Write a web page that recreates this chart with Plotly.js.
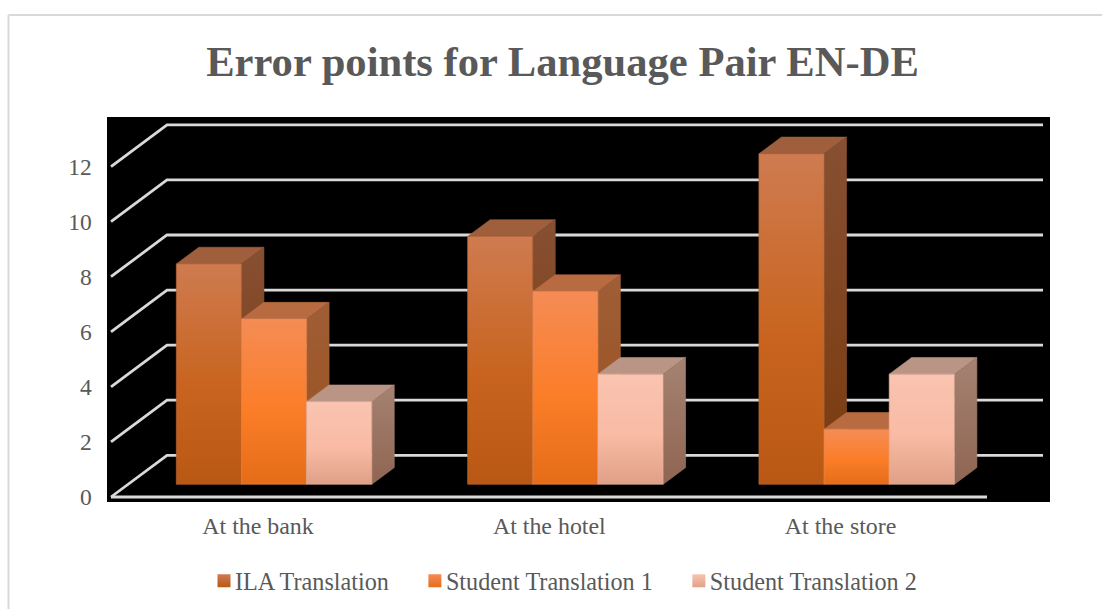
<!DOCTYPE html>
<html><head><meta charset="utf-8">
<script src="https://cdn.plot.ly/plotly-3.0.1.min.js"></script>
<style>html,body{margin:0;padding:0;background:#fff}</style></head>
<body><div id="chart" style="width:1102px;height:609px"></div>
<script>
const categories = ["At the bank", "At the hotel", "At the store"];
const ilaTranslation = [8, 9, 12];
const studentTranslation1 = [6, 7, 2];
const studentTranslation2 = [3, 4, 4];
const tickValues = [0, 2, 4, 6, 8, 10, 12];
const seriesNames = ["ILA Translation", "Student Translation 1", "Student Translation 2"];

const W = 1102, H = 609, L = 107, R = 1050, T = 117, B = 502;
const zeroPx = 497, unitPx = 27.54, catPx = 291.3, cat0Px = 258;
const dx = p => p / catPx, dy = p => p / unitPx;
const sx = [
  {front:[[0,'#CF7B50'],[0.55,'#C8641F'],[1,'#B95814']], top:'#A05F3C', side:[[0,'#875033'],[1,'#7A3A0C']], edge:'#B8663A'},
  {front:[[0,'#F58C55'],[0.55,'#FB7D28'],[1,'#E56D18']], top:'#B86B40', side:[[0,'#A05E37'],[1,'#99501A']], edge:'#E88A55'},
  {front:[[0,'#F9C4B1'],[0.55,'#F9BBA4'],[1,'#E0A088']], top:'#BA9485', side:[[0,'#A58272'],[1,'#8F6552']], edge:'#E8B5A0'}
];
const seriesValues = [ilaTranslation, studentTranslation1, studentTranslation2];

const barW = dx(65.15), groupLeft = dx(-81.7), baseLift = dy(12.7), depthX = dx(22.5), depthY = dy(16.7);
const wallX = dx(56), wallY = dy(41.7), wallEnd = (1043 - cat0Px) / catPx, frontStart = (111 - cat0Px) / catPx, frontEnd = (987 - cat0Px) / catPx;

const traces = [];
tickValues.forEach(v => {
  traces.push({type:'scatter', mode:'lines', showlegend:false, hoverinfo:'skip',
    x:[frontStart, frontStart + wallX, wallEnd], y:[v, v + wallY, v + wallY],
    line:{color:'#D9D9D9', width:2.8}});
});
traces.push({type:'scatter', mode:'lines', showlegend:false, hoverinfo:'skip',
  x:[frontStart, frontEnd], y:[0, 0], line:{color:'#D9D9D9', width:2.8}});

function poly(xs, ys, fill, edge, grad) {
  const t = {type:'scatter', mode:'lines', fill:'toself', showlegend:false, hoverinfo:'skip',
    x:xs.concat(xs[0]), y:ys.concat(ys[0]), line:{color:edge, width:0.6}};
  if (grad) { t.fillgradient = {type:'vertical', colorscale:grad, start:Math.max(...ys), stop:Math.min(...ys)}; t.fillcolor = grad[0][1]; }
  else t.fillcolor = fill;
  return t;
}
categories.forEach((c, g) => {
  seriesValues.forEach((vals, s) => {
    const v = vals[g], st = sx[s];
    const x0 = g + groupLeft + s * barW, x1 = x0 + barW, y0 = baseLift, y1 = v + baseLift;
    traces.push(poly([x0, x1, x1 + depthX, x0 + depthX], [y1, y1, y1 + depthY, y1 + depthY], st.top, st.top));
    traces.push(poly([x1, x1 + depthX, x1 + depthX, x1], [y0, y0 + depthY, y1 + depthY, y1], null, st.side[0][1], st.side));
    traces.push(poly([x0, x1, x1, x0], [y0, y0, y1, y1], null, st.edge, st.front));
  });
});
seriesNames.forEach((n, s) => {
  traces.push({type:'scatter', mode:'markers', name:n, x:[null], y:[null], hoverinfo:'skip',
    marker:{symbol:'square', size:13, color:sx[s].front[0][1], gradient:{type:'vertical', color:sx[s].front[2][1]}}});
});

const grey = '#595959', serif = '"Liberation Serif","Times New Roman",serif';
const layout = {
  width:W, height:H, autosize:false,
  margin:{l:L, r:W-R, t:T, b:H-B, pad:0, autoexpand:false},
  paper_bgcolor:'#fff', plot_bgcolor:'#000',
  title:{text:'Error points for Language Pair EN-DE', x:562.5/W, xanchor:'center', xref:'container', y:1-61/H, yanchor:'middle', yref:'container',
    font:{family:serif, size:42.6, color:grey, weight:'bold'}},
  xaxis:{range:[(L-cat0Px)/catPx, (R-cat0Px)/catPx], tickmode:'array', tickvals:[0,1,2], ticktext:categories,
    showgrid:false, zeroline:false, showline:false, ticks:'outside', ticklen:2, tickcolor:'rgba(0,0,0,0)',
    tickfont:{family:serif, size:23.9, color:grey}},
  yaxis:{range:[(zeroPx-B)/unitPx, (zeroPx-T)/unitPx], tickmode:'array', tickvals:tickValues,
    showgrid:false, zeroline:false, showline:false, ticks:'outside', ticklen:9.5, tickcolor:'rgba(0,0,0,0)',
    tickfont:{family:serif, size:23.5, color:grey}},
  legend:{orientation:'h', itemwidth:42, x:(183-L)/(R-L), xanchor:'left', y:(B-581)/(B-T), yanchor:'middle', font:{family:serif, size:24.2, color:grey}, bgcolor:'rgba(0,0,0,0)'},
  shapes:[
    {type:'line', xref:'paper', yref:'paper', x0:(-L+8.5)/(R-L), x1:(W-L)/(R-L), y0:(B-15)/(B-T), y1:(B-15)/(B-T), line:{color:'#D9D9D9', width:2}},
    {type:'line', xref:'paper', yref:'paper', x0:(-L+8.5)/(R-L), x1:(-L+8.5)/(R-L), y0:(B-15)/(B-T), y1:(B-H)/(B-T), line:{color:'#D9D9D9', width:2}}
  ],
  showlegend:true
};
Plotly.newPlot('chart', traces, layout, {displayModeBar:false, staticPlot:true}).then(gd => {
  gd.querySelectorAll('.legend .legendsymbols').forEach(el => el.setAttribute('transform', 'translate(15,0)'));
});
</script></body></html>
